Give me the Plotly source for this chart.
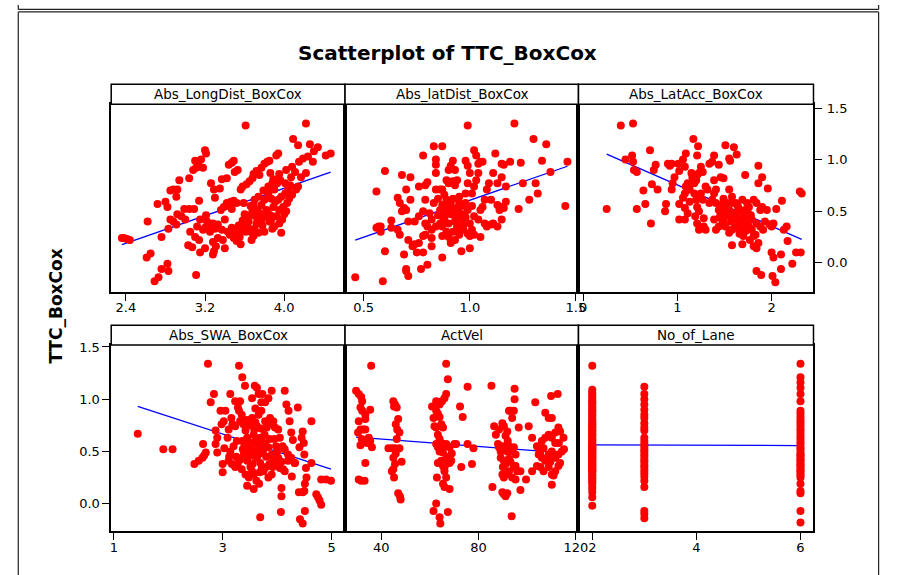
import numpy as np
import plotly.graph_objects as go

W, H = 897, 575

title_text = "Scatterplot of TTC_BoxCox"
y_title = "TTC_BoxCox"
panel_names = ["Abs_LongDist_BoxCox", "Abs_latDist_BoxCox", "Abs_LatAcc_BoxCox",
               "Abs_SWA_BoxCox", "ActVel", "No_of_Lane"]

# (predictor, TTC_BoxCox) observations for each panel
long_dist = [
    (2.36, 0.24), (2.38, 0.24), (2.41, 0.23), (2.44, 0.22), (2.62, 0.40), (2.61, 0.05), (2.65, 0.09),
    (2.69, -0.18), (2.73, -0.14), (2.76, -0.06), (2.82, -0.01), (2.83, -0.08), (2.76, 0.25), (2.72, 0.57),
    (2.80, 0.59), (2.82, 0.54), (2.83, 0.33), (2.91, 0.37), (2.85, 0.70), (2.88, 0.71), (2.92, 0.71),
    (2.91, 0.64), (2.94, 0.80), (2.96, 0.45), (3.00, 0.42), (2.99, 0.52), (3.04, 0.52), (3.09, 0.52),
    (3.04, 0.82), (3.08, 0.90), (3.11, 0.92), (3.14, 0.93), (3.10, 0.99), (3.16, 1.00), (3.20, 1.09),
    (3.21, 1.06), (3.18, 0.92), (3.13, 0.96), (3.14, 0.60), (3.03, 0.17), (3.07, 0.15), (3.11, -0.12),
    (3.10, 0.25), (3.14, 0.22), (3.18, 0.32), (3.20, 0.34), (3.24, 0.37), (3.28, 0.38), (3.33, 0.37),
    (3.22, 0.40), (3.30, 0.33), (3.26, 0.77), (3.29, 0.71), (3.28, 0.08), (3.31, 0.16), (3.29, 0.11),
    (3.37, 0.81), (3.40, 0.14), (3.36, 0.51), (3.39, 0.54), (3.42, 0.58), (3.46, 0.59), (3.49, 0.60),
    (3.52, 0.58), (3.44, 0.55), (3.47, 0.52), (3.44, 0.95), (3.47, 0.97), (3.49, 0.99), (3.40, 0.42),
    (3.37, 0.32), (3.45, 0.27), (3.49, 0.24), (3.53, 0.29), (3.57, 0.32), (3.60, 0.38), (3.56, 0.18),
    (3.52, 0.21), (3.55, 0.25), (3.56, 0.71), (3.58, 0.74), (3.62, 0.76), (3.65, 0.79), (3.69, 0.86),
    (3.72, 0.89), (3.77, 0.92), (3.80, 0.96), (3.83, 0.98), (3.85, 0.99), (3.61, 1.33), (3.59, 0.58),
    (3.75, 0.85), (3.68, 0.82), (3.62, 0.42), (3.65, 0.46), (3.68, 0.51), (3.69, 0.56), (3.73, 0.51),
    (3.77, 0.56), (3.80, 0.61), (3.63, 0.35), (3.66, 0.30), (3.69, 0.26), (3.72, 0.38), (3.77, 0.42),
    (3.81, 0.45), (3.64, 0.40), (3.70, 0.33), (3.74, 0.29), (3.78, 0.36), (3.71, 0.45), (3.75, 0.48),
    (3.83, 0.50), (3.67, 0.22), (3.61, 0.30), (3.86, 0.87), (3.88, 0.77), (3.90, 0.71), (3.93, 0.77),
    (3.96, 0.80), (3.94, 1.06), (3.92, 1.04), (3.84, 0.67), (3.87, 0.62), (3.91, 0.59), (3.94, 0.61),
    (3.97, 0.64), (4.01, 0.67), (4.04, 0.71), (3.89, 0.54), (3.82, 0.51), (3.86, 0.46), (3.87, 0.42),
    (3.92, 0.45), (3.95, 0.51), (3.99, 0.54), (3.90, 0.35), (3.95, 0.38), (3.97, 0.29), (3.85, 0.40),
    (3.80, 0.30), (3.88, 0.33), (4.01, 0.77), (4.06, 0.75), (4.07, 0.83), (4.11, 0.88), (4.12, 0.71),
    (4.14, 0.74), (4.09, 1.20), (4.14, 1.14), (4.22, 1.35), (4.26, 1.15), (4.34, 1.12), (4.24, 1.03),
    (4.29, 0.98), (4.22, 0.87), (4.17, 0.83), (4.42, 1.04), (4.47, 1.06), (4.03, 0.58), (4.05, 0.62),
    (4.08, 0.66), (4.00, 0.47), (4.02, 0.50), (3.98, 0.42), (2.85, 0.42), (2.92, 0.47), (2.88, 0.40),
    (3.05, 0.30), (3.12, 0.35), (3.15, 0.42), (3.25, 0.30), (3.21, 0.46), (3.30, 0.63), (3.35, 0.72),
    (3.42, 0.82), (3.50, 0.88), (3.53, 0.90), (3.28, 0.20), (3.33, 0.24), (3.38, 0.22), (3.43, 0.30),
    (3.47, 0.34), (3.50, 0.31), (3.54, 0.36), (3.58, 0.41), (3.60, 0.47), (3.66, 0.55), (3.70, 0.61),
    (3.74, 0.64), (3.79, 0.70), (3.84, 0.74), (3.89, 0.81), (3.95, 0.86), (4.02, 0.90), (4.08, 0.93),
    (4.15, 0.98), (4.19, 1.01), (4.30, 1.08), (3.20, 0.14), (3.15, 0.10),
]

lat_dist = [
    (0.46, -0.14), (0.59, -0.18), (0.60, 0.11), (0.56, 0.69), (0.60, 0.89), (0.57, 0.35), (0.58, 0.35),
    (0.58, 0.30), (0.56, 0.34), (0.63, 0.41), (0.63, 0.34), (0.66, 0.63), (0.67, 0.58), (0.66, 0.32),
    (0.67, 0.27), (0.68, 0.85), (0.70, 0.71), (0.70, 0.51), (0.68, 0.50), (0.69, 0.53), (0.69, 0.08),
    (0.70, -0.08), (0.71, -0.13), (0.70, -0.06), (0.71, 0.40), (0.71, 0.22), (0.72, 0.83), (0.72, 0.61),
    (0.73, 0.16), (0.74, 0.18), (0.75, 0.10), (0.76, 0.19), (0.77, -0.06), (0.80, -0.02), (0.78, 0.10),
    (0.78, 0.26), (0.79, 0.27), (0.78, 1.04), (0.79, 0.75), (0.80, 0.78), (0.78, 0.50), (0.79, 0.61),
    (0.79, 0.38), (0.82, 0.16), (0.82, 0.24), (0.82, 0.32), (0.82, 0.42), (0.83, 0.58), (0.84, 0.87),
    (0.84, 0.95), (0.84, 1.00), (0.83, 1.13), (0.87, 1.13), (0.84, 0.71), (0.86, 0.71), (0.87, 0.71),
    (0.85, 0.46), (0.86, 0.51), (0.87, 0.56), (0.87, 0.45), (0.88, 0.53), (0.89, 0.61), (0.84, 0.35),
    (0.86, 0.38), (0.87, 0.35), (0.89, 0.30), (0.90, 0.38), (0.87, 0.05), (0.87, 0.26), (0.90, 0.25),
    (0.91, 0.19), (0.89, 0.80), (0.90, 0.90), (0.91, 0.94), (0.92, 0.99), (0.93, 0.90), (0.90, 0.77),
    (0.92, 0.79), (0.93, 0.75), (0.94, 0.80), (0.91, 0.58), (0.92, 0.51), (0.93, 0.45), (0.94, 0.53),
    (0.95, 0.58), (0.95, 0.48), (0.96, 0.42), (0.97, 0.32), (0.94, 0.32), (0.95, 0.27), (0.93, 0.22),
    (0.94, 0.35), (0.96, 0.11), (1.00, 0.14), (0.99, 1.33), (0.98, 0.99), (0.99, 0.94), (1.00, 0.87),
    (1.02, 1.09), (1.03, 1.04), (1.04, 0.96), (1.05, 0.98), (1.06, 0.98), (0.98, 0.67), (0.99, 0.77),
    (1.01, 0.67), (1.02, 0.74), (1.03, 0.80), (1.04, 0.87), (0.98, 0.58), (0.99, 0.51), (1.00, 0.38),
    (1.01, 0.32), (1.02, 0.45), (1.04, 0.42), (1.05, 0.51), (1.00, 0.26), (1.02, 0.27), (1.05, 0.25),
    (1.06, 0.54), (1.07, 0.61), (1.08, 0.71), (1.09, 0.77), (1.10, 0.61), (1.07, 0.38), (1.08, 0.35),
    (1.10, 0.37), (1.11, 0.38), (1.11, 0.87), (1.12, 1.06), (1.13, 0.77), (1.15, 0.96), (1.15, 0.83),
    (1.16, 0.95), (1.17, 0.74), (1.13, 0.56), (1.14, 0.51), (1.15, 0.54), (1.16, 0.53), (1.17, 0.59),
    (1.13, 0.35), (1.15, 0.42), (1.19, 0.98), (1.21, 1.35), (1.24, 0.97), (1.23, 0.52), (1.25, 0.77),
    (1.28, 0.61), (1.30, 1.20), (1.32, 0.67), (1.31, 0.77), (1.34, 0.99), (1.36, 1.15), (1.38, 0.88),
    (1.45, 0.55), (1.46, 0.98), (0.88, 0.42), (0.91, 0.47), (0.93, 0.40), (0.96, 0.55), (0.97, 0.47),
    (0.90, 0.55), (0.92, 0.62), (0.95, 0.64), (0.89, 0.48), (0.98, 0.44), (1.01, 0.55), (0.97, 0.37),
    (0.99, 0.28), (0.92, 0.30), (0.88, 0.66), (0.85, 0.62), (0.81, 0.48), (0.76, 0.45), (0.74, 0.40),
    (0.80, 0.35), (0.76, 0.74),
]

lat_acc = [
    (0.25, 0.52), (0.40, 1.33), (0.53, 1.35), (0.45, 1.00), (0.52, 1.04), (0.53, 0.98), (0.54, 0.90),
    (0.57, 0.88), (0.57, 0.52), (0.64, 0.70), (0.66, 0.57), (0.71, 1.09), (0.72, 0.38), (0.73, 0.76),
    (0.79, 0.71), (0.75, 0.90), (0.77, 0.95), (0.87, 0.50), (0.88, 0.57), (0.90, 0.96), (0.92, 0.94),
    (0.94, 0.96), (0.94, 0.71), (0.95, 0.77), (0.97, 0.83), (1.01, 0.96), (1.02, 0.89), (1.06, 1.00),
    (1.08, 0.93), (1.09, 1.06), (1.02, 0.42), (1.08, 0.42), (1.02, 0.57), (1.06, 0.63), (1.08, 0.67),
    (1.09, 0.74), (1.11, 0.77), (1.13, 0.71), (1.08, 0.53), (1.11, 0.48), (1.13, 0.59), (1.15, 0.87),
    (1.16, 0.83), (1.18, 0.77), (1.20, 0.80), (1.21, 0.85), (1.23, 0.87), (1.17, 1.20), (1.22, 1.13),
    (1.21, 1.04), (1.18, 0.67), (1.20, 0.61), (1.21, 0.54), (1.23, 0.50), (1.25, 0.67), (1.27, 0.61),
    (1.19, 0.45), (1.21, 0.38), (1.23, 0.32), (1.25, 0.93), (1.27, 0.88), (1.28, 0.35), (1.30, 0.32),
    (1.28, 0.43), (1.30, 0.74), (1.32, 0.71), (1.34, 0.58), (1.37, 0.61), (1.39, 0.67), (1.34, 0.96),
    (1.37, 0.98), (1.39, 1.04), (1.44, 0.95), (1.46, 0.83), (1.39, 0.80), (1.41, 0.71), (1.41, 0.58),
    (1.44, 0.51), (1.46, 0.48), (1.48, 0.53), (1.39, 0.42), (1.41, 0.32), (1.44, 0.35), (1.48, 0.40),
    (1.49, 0.82), (1.51, 1.14), (1.55, 1.01), (1.56, 0.99), (1.60, 1.12), (1.63, 1.05), (1.49, 0.62),
    (1.51, 0.54), (1.53, 0.50), (1.55, 0.51), (1.56, 0.45), (1.49, 0.40), (1.51, 0.35), (1.55, 0.29),
    (1.58, 0.32), (1.58, 0.17), (1.55, 0.71), (1.58, 0.64), (1.62, 0.58), (1.65, 0.53), (1.67, 0.50),
    (1.69, 0.61), (1.62, 0.45), (1.63, 0.42), (1.65, 0.38), (1.67, 0.35), (1.69, 0.29), (1.70, 0.26),
    (1.70, 0.45), (1.72, 0.51), (1.74, 0.58), (1.76, 0.54), (1.78, 0.46), (1.79, 0.42), (1.72, 0.85),
    (1.76, 0.35), (1.79, 0.32), (1.81, 0.26), (1.83, 0.27), (1.81, 0.61), (1.84, 0.58), (1.88, 0.51),
    (1.90, 0.54), (1.81, 0.16), (1.84, 0.14), (1.86, 0.19), (1.84, 0.38), (1.88, 0.35), (1.91, 0.32),
    (1.93, 0.40), (1.86, 0.94), (1.86, 0.77), (1.90, 0.83), (1.96, 0.72), (1.84, -0.08), (1.89, -0.12),
    (1.95, 0.51), (1.98, 0.37), (2.00, 0.35), (2.02, 0.38), (2.00, 0.10), (2.02, 0.05), (2.01, -0.13),
    (2.04, -0.19), (2.05, 0.52), (2.11, 0.60), (2.10, 0.08), (2.10, -0.06), (2.13, 0.32), (2.16, 0.35),
    (2.17, 0.21), (2.22, -0.01), (2.26, 0.10), (2.31, 0.10), (2.30, 0.69), (2.32, 0.67), (1.45, 0.44),
    (1.52, 0.46), (1.57, 0.40), (1.60, 0.48), (1.64, 0.55), (1.68, 0.42), (1.71, 0.37), (1.73, 0.31),
    (1.75, 0.48), (1.66, 0.28), (1.61, 0.34), (1.59, 0.58), (1.53, 0.58), (1.47, 0.56), (1.77, 0.22),
    (1.69, 0.18), (1.74, 0.41),
]

swa = [
    (1.44, 0.67), (1.91, 0.52), (2.08, 0.52), (2.48, 0.38), (2.56, 0.41), (2.63, 0.44), (2.66, 0.46),
    (2.69, 0.49), (2.64, 0.57), (2.73, 1.34), (2.78, 0.97), (2.84, 1.05), (2.87, 0.70), (2.90, 0.63),
    (2.87, 0.57), (2.90, 0.49), (2.96, 0.89), (3.05, 0.89), (2.98, 0.76), (3.02, 0.79), (3.00, 0.38),
    (3.00, 0.30), (3.03, 0.53), (3.09, 0.63), (3.11, 0.71), (3.14, 1.05), (3.23, 0.98), (3.28, 0.92),
    (3.32, 0.98), (3.16, 0.82), (3.18, 0.76), (3.23, 0.74), (3.30, 0.89), (3.32, 0.79), (3.35, 0.85),
    (3.38, 0.76), (3.11, 0.41), (3.17, 0.38), (3.23, 0.35), (3.28, 0.39), (3.32, 0.42), (3.30, 1.32),
    (3.36, 1.21), (3.41, 1.13), (3.42, 0.70), (3.45, 0.63), (3.48, 0.59), (3.51, 0.54), (3.42, 0.51),
    (3.39, 0.47), (3.45, 0.41), (3.51, 0.35), (3.54, 0.31), (3.57, 0.28), (3.45, 0.17), (3.57, 0.14),
    (3.67, 0.19), (3.54, 1.01), (3.59, 1.13), (3.63, 1.11), (3.66, 1.05), (3.60, 0.91), (3.54, 0.82),
    (3.60, 0.78), (3.63, 0.74), (3.66, 0.85), (3.71, 0.89), (3.57, 0.66), (3.60, 0.60), (3.63, 0.57),
    (3.66, 0.54), (3.69, 0.63), (3.72, 0.60), (3.63, 0.44), (3.69, 0.39), (3.72, 0.34), (3.75, 0.31),
    (3.69, -0.13), (3.71, 0.97), (3.73, 1.05), (3.78, 0.97), (3.84, 1.01), (3.78, 0.79), (3.81, 0.73),
    (3.84, 0.76), (3.87, 0.82), (3.78, 0.57), (3.84, 0.54), (3.90, 0.47), (3.93, 0.42), (3.96, 0.37),
    (3.84, 0.25), (3.90, 0.28), (3.90, 1.08), (3.93, 0.79), (3.96, 0.73), (4.02, 0.71), (4.05, 0.63),
    (4.02, 0.44), (4.05, 0.34), (4.11, 0.33), (4.14, 0.31), (4.20, 0.47), (4.08, 0.15), (4.08, 0.07),
    (4.07, -0.08), (4.14, 1.08), (4.21, 0.89), (4.23, 0.79), (4.26, 0.68), (4.29, 0.61), (4.17, 0.95),
    (4.14, 0.52), (4.20, 0.41), (4.26, 0.44), (4.32, 0.39), (4.27, 0.26), (4.33, 0.39), (4.38, 0.92),
    (4.41, 0.54), (4.45, 0.63), (4.50, 0.47), (4.47, 0.69), (4.49, 0.58), (4.53, 0.34), (4.54, 0.25),
    (4.40, 0.11), (4.47, 0.11), (4.50, 0.12), (4.42, -0.15), (4.47, -0.19), (4.51, -0.07), (4.51, 0.19),
    (4.63, 0.79), (4.63, 0.39), (4.72, 0.09), (4.75, 0.06), (4.78, 0.03), (4.81, -0.01), (4.81, 0.23),
    (4.90, 0.23), (4.99, 0.22), (3.36, 0.60), (3.40, 0.55), (3.47, 0.45), (3.52, 0.48), (3.56, 0.50),
    (3.60, 0.45), (3.68, 0.48), (3.74, 0.50), (3.80, 0.45), (3.86, 0.38), (3.92, 0.35), (3.98, 0.55),
    (4.00, 0.50), (3.77, 0.66), (3.70, 0.72), (3.58, 0.71), (3.50, 0.75), (3.44, 0.80), (3.26, 0.60),
    (3.20, 0.55), (3.14, 0.50), (3.12, 0.45), (3.25, 0.45), (3.35, 0.33), (3.42, 0.28), (3.48, 0.25),
    (3.62, 0.22), (3.80, 0.35), (3.86, 0.62), (3.95, 0.62), (4.10, 0.55), (4.08, 0.40), (3.68, 0.30),
    (3.55, 0.38), (3.37, 0.52),
]

act_vel = [
    (29.7, 1.08), (30.8, 1.05), (31.8, 1.02), (32.2, 0.98), (31.5, 0.92), (32.2, 0.89), (33.5, 0.85),
    (35.5, 0.90), (35.9, 1.32), (30.8, 0.79), (31.5, 0.71), (32.6, 0.71), (33.5, 0.71), (33.5, 0.81),
    (34.9, 0.63), (35.5, 0.60), (36.2, 0.54), (31.5, 0.56), (34.2, 0.58), (33.5, 0.39), (30.8, 0.23),
    (31.8, 0.22), (33.2, 0.22), (30.5, 0.68), (32.0, 0.62),
    (45.0, 0.98), (45.7, 0.95), (46.4, 0.92), (45.3, 0.93), (47.0, 0.81), (46.0, 0.76), (46.6, 0.71),
    (46.4, 0.62), (43.0, 0.53), (44.4, 0.53), (45.7, 0.53), (47.5, 0.53), (45.0, 0.44), (45.7, 0.38),
    (45.0, 0.33), (44.4, 0.31), (45.3, 0.25), (48.4, 0.40), (47.0, 0.10), (47.7, 0.07), (48.0, 0.04),
    (46.0, 0.48), (47.5, 0.68),
    (66.7, 1.34), (67.4, 1.19), (66.7, 1.05), (66.0, 1.01), (65.0, 0.98), (64.0, 0.95), (62.6, 0.98),
    (60.9, 0.93), (62.6, 0.89), (63.3, 0.86), (64.0, 0.83), (64.7, 0.76), (65.4, 0.73), (61.9, 0.74),
    (62.6, 0.73), (63.3, 0.66), (64.0, 0.62), (64.7, 0.58), (65.4, 0.57), (66.0, 0.55), (62.6, 0.57),
    (63.3, 0.54), (64.0, 0.50), (65.4, 0.49), (66.7, 0.57), (68.1, 0.54), (70.1, 0.57), (70.8, 0.57),
    (64.7, 0.41), (65.4, 0.36), (66.0, 0.34), (66.7, 0.38), (68.1, 0.39), (68.8, 0.41), (63.3, 0.39),
    (66.0, 0.31), (66.7, 0.25), (65.4, 0.19), (66.0, 0.16), (68.1, 0.14), (62.9, 0.25), (62.6, -0.00),
    (61.5, -0.07), (64.0, -0.13), (64.3, -0.19), (67.4, -0.08), (72.4, 0.93), (73.5, 0.83), (72.9, 0.35),
    (75.5, 1.12), (75.5, 0.57), (77.3, 0.38), (77.9, 0.53), (69.0, 0.48), (67.0, 0.45), (61.5, 0.82),
    (85.3, 1.13), (86.4, 0.74), (87.1, 0.66), (88.4, 0.71), (89.8, 0.77), (90.4, 0.74), (91.8, 0.69),
    (91.1, 0.65), (92.5, 0.89), (93.1, 0.89), (93.8, 0.82), (94.5, 0.89), (94.8, 1.10), (94.8, 1.00),
    (88.0, 0.57), (88.4, 0.54), (89.1, 0.50), (89.8, 0.55), (91.1, 0.54), (91.8, 0.50), (92.5, 0.55),
    (93.8, 0.50), (94.5, 0.54), (95.2, 0.47), (89.1, 0.44), (90.4, 0.41), (91.1, 0.38), (92.5, 0.43),
    (93.1, 0.40), (94.5, 0.35), (95.2, 0.36), (95.9, 0.31), (89.8, 0.28), (90.4, 0.25), (91.1, 0.28),
    (92.5, 0.31), (93.8, 0.25), (95.2, 0.23), (97.2, 0.31), (85.7, 0.16), (89.8, 0.11), (90.4, 0.09),
    (91.1, 0.07), (91.8, 0.10), (93.6, -0.12), (96.5, 0.73), (97.2, 0.13), (92.0, 0.60), (90.0, 0.35),
    (100.6, 0.74), (102.0, 0.63), (103.3, 0.97), (107.4, 0.87), (108.8, 0.82), (110.1, 0.82),
    (109.8, 1.03), (112.5, 1.05), (104.0, 0.55), (105.4, 0.50), (106.7, 0.53), (107.4, 0.63),
    (108.8, 0.66), (110.1, 0.63), (111.5, 0.68), (112.8, 0.73), (113.5, 0.69), (114.9, 0.63),
    (104.7, 0.47), (106.0, 0.44), (107.4, 0.41), (108.8, 0.47), (110.1, 0.50), (111.5, 0.44),
    (112.8, 0.47), (114.2, 0.50), (115.1, 0.52), (104.0, 0.36), (105.4, 0.35), (106.7, 0.31),
    (108.8, 0.35), (110.1, 0.28), (111.5, 0.31), (112.8, 0.36), (113.5, 0.39), (99.5, 0.23),
    (102.0, 0.31), (110.8, 0.27), (110.1, 0.18), (111.5, 0.58), (109.5, 0.40), (106.0, 0.60),
    (113.0, 0.58),
]

# TTC_BoxCox values grouped by number of lanes
lane_levels = [2, 3, 6]
ttc_lane2 = [1.32, 1.09, 1.07, 1.05, 1.03, 1.01, 0.99, 0.97, 0.96, 0.94, 0.92, 0.90, 0.89, 0.87, 0.85,
             0.84, 0.82, 0.80, 0.79, 0.77, 0.76, 0.74, 0.73, 0.71, 0.70, 0.69, 0.67, 0.66, 0.65, 0.63,
             0.62, 0.61, 0.60, 0.58, 0.57, 0.56, 0.55, 0.54, 0.53, 0.52, 0.51, 0.50, 0.49, 0.48, 0.47,
             0.46, 0.45, 0.44, 0.43, 0.42, 0.41, 0.40, 0.39, 0.38, 0.37, 0.36, 0.35, 0.34, 0.33, 0.32,
             0.31, 0.30, 0.28, 0.27, 0.25, 0.24, 0.22, 0.21, 0.19, 0.16, 0.14, 0.11, 0.06, -0.02]
ttc_lane3 = [1.12, 1.05, 1.00, 0.95, 0.90, 0.85, 0.82, 0.77, 0.73, 0.70, 0.63, 0.60, 0.57, 0.55, 0.52,
             0.50, 0.47, 0.45, 0.42, 0.40, 0.37, 0.35, 0.32, 0.29, 0.26, 0.22, 0.16, -0.07, -0.10, -0.14]
ttc_lane6 = [1.34, 1.21, 1.16, 1.11, 1.05, 0.98, 0.89, 0.86, 0.83, 0.80, 0.78, 0.75, 0.72, 0.70, 0.67,
             0.64, 0.62, 0.59, 0.57, 0.54, 0.52, 0.49, 0.47, 0.46, 0.44, 0.42, 0.41, 0.39, 0.37, 0.36,
             0.34, 0.32, 0.31, 0.29, 0.27, 0.25, 0.19, 0.12, 0.10, -0.07, -0.18]

lanes = ([(lane_levels[0], v) for v in ttc_lane2] + [(lane_levels[1], v) for v in ttc_lane3]
         + [(lane_levels[2], v) for v in ttc_lane6])

panel_data = [long_dist, lat_dist, lat_acc, swa, act_vel, lanes]

x_ranges = [[2.252, 4.615], [0.412, 1.512], [-0.049, 2.445], [0.953, 5.248], [25.17, 121.05], [1.735, 6.25]]
x_ticks = [[2.4, 3.2, 4.0], [0.5, 1.0, 1.5], [0, 1, 2], [1, 3, 5], [40, 80, 120], [2, 4, 6]]
x_formats = [".1f", ".1f", "d", "d", "d", "d"]
y_ticks = [0.0, 0.5, 1.0, 1.5]

# pixel geometry of the panel grid
col_px = [(110.7, 347.7), (347.7, 584.3), (584.3, 822.5)]
row_px = [(100.0, 289.5), (343.0, 531.0)]   # plot area (top, bottom)
head_px = [(80.0, 100.0), (323.0, 343.0)]   # header strip (top, bottom)
y_ranges = [[-0.284, 1.538], [-0.266, 1.519]]


def px_x(v):
    return v / W


def px_y(v):
    return 1 - v / H


FONT = "DejaVu Sans"
fig = go.Figure()
layout = dict(
    width=W, height=H, margin=dict(l=0, r=0, t=0, b=0),
    paper_bgcolor="white", plot_bgcolor="white", showlegend=False,
    font=dict(family=FONT, size=13, color="black"),
)
shapes, annotations = [], []

for i, pts in enumerate(panel_data):
    r, c = divmod(i, 3)
    n = i + 1
    xa, ya = f"xaxis{n if n > 1 else ''}", f"yaxis{n if n > 1 else ''}"
    xr, yr = f"x{n if n > 1 else ''}", f"y{n if n > 1 else ''}"
    xs = np.array([p[0] for p in pts], dtype=float)
    ys = np.array([p[1] for p in pts], dtype=float)

    # least-squares fit, drawn underneath the points
    slope, icpt = np.polyfit(xs, ys, 1)
    fx = np.array([xs.min(), xs.max()])
    fig.add_trace(go.Scatter(x=fx, y=icpt + slope * fx, mode="lines", xaxis=xr, yaxis=yr,
                             line=dict(color="#0000ff", width=1.3), hoverinfo="skip"))
    fig.add_trace(go.Scatter(x=xs, y=ys, mode="markers", xaxis=xr, yaxis=yr,
                             marker=dict(color="#ff0000", size=8, line=dict(width=0)),
                             hoverinfo="skip"))

    x0, x1 = col_px[c]
    top, bot = row_px[r]
    layout[xa] = dict(
        domain=[px_x(x0), px_x(x1)], anchor=yr, range=x_ranges[i],
        tickvals=x_ticks[i], tickformat=x_formats[i], ticks="outside", ticklen=7,
        tickwidth=1, tickcolor="black", showgrid=False, zeroline=False,
        showline=True, linecolor="black", linewidth=1.5, mirror=True,
        tickfont=dict(family=FONT, size=13), ticklabelstandoff=-4,
    )
    yd = dict(
        domain=[px_y(bot), px_y(top)], anchor=xr, range=y_ranges[r],
        showgrid=False, zeroline=False, showline=True, linecolor="black",
        linewidth=1.5, mirror=True,
    )
    if r == 0 and c == 2:
        yd.update(side="right", tickvals=y_ticks, tickformat=".1f", ticks="outside",
                  ticklen=7, tickwidth=1, tickcolor="black", tickfont=dict(family=FONT, size=13),
                  ticklabelstandoff=2)
    elif r == 1 and c == 0:
        yd.update(side="left", tickvals=y_ticks, tickformat=".1f", ticks="outside",
                  ticklen=7, tickwidth=1, tickcolor="black", tickfont=dict(family=FONT, size=13))
    else:
        yd.update(showticklabels=False, ticks="", tickvals=[])
    layout[ya] = yd

    # header strip with the predictor name
    h0, h1 = head_px[r]
    shapes.append(dict(type="rect", xref="paper", yref="paper",
                       x0=px_x(x0), x1=px_x(x1), y0=px_y(h1), y1=px_y(h0),
                       line=dict(color="black", width=1.5), fillcolor="white"))
    annotations.append(dict(text=panel_names[i], xref="paper", yref="paper",
                            x=px_x((x0 + x1) / 2), y=px_y((h0 + h1) / 2),
                            xanchor="center", yanchor="middle", showarrow=False,
                            font=dict(family=FONT, size=13.5, color="black")))

# title and shared y label
annotations.append(dict(text=f"<b>{title_text}</b>", xref="paper", yref="paper",
                        x=px_x(452), y=px_y(48), xanchor="center", yanchor="middle",
                        showarrow=False, font=dict(family=FONT, size=20, color="black")))
annotations.append(dict(text=f"<b>{y_title}</b>", xref="paper", yref="paper",
                        x=px_x(55), y=px_y(304), xanchor="center", yanchor="middle",
                        textangle=-90, showarrow=False,
                        font=dict(family=FONT, size=17, color="black")))

# outer page frames
frame = dict(color="#222222", width=1.2)
fl, fr = px_x(16.5), px_x(888.5)
for seg in [
    (fl, px_y(0), fl, px_y(4.5)), (fr, px_y(0), fr, px_y(4.5)), (fl, px_y(4.5), fr, px_y(4.5)),
    (fl, px_y(7.0), fr, px_y(7.0)), (fl, px_y(7.0), fl, 0), (fr, px_y(7.0), fr, 0),
]:
    shapes.append(dict(type="line", xref="paper", yref="paper",
                       x0=seg[0], y0=seg[1], x1=seg[2], y1=seg[3], line=frame))

layout["shapes"] = shapes
layout["annotations"] = annotations
fig.update_layout(**layout)
fig.write_html("out.html")
